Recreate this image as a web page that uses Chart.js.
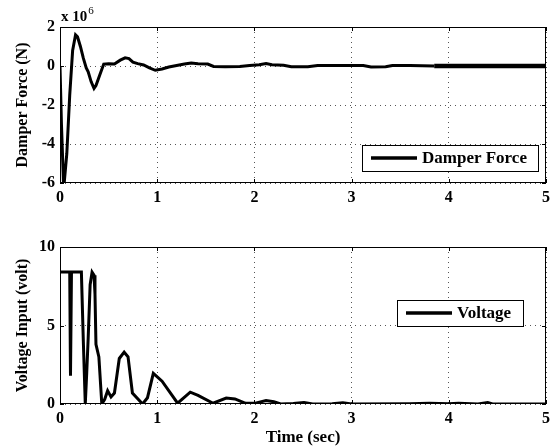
<!DOCTYPE html>
<html>
<head>
<meta charset="utf-8">
<script src="https://cdn.jsdelivr.net/npm/chart.js@4.4.1/dist/chart.umd.min.js"></script>
<style>
  html, body { margin: 0; padding: 0; background: #fff; }
  #wrap { position: relative; width: 555px; height: 448px; }
  .box { position: absolute; left: 0; width: 555px; }
</style>
</head>
<body>
<div id="wrap">
  <div class="box" style="top:0;height:220px"><canvas id="forceChart"></canvas></div>
  <div class="box" style="top:220px;height:228px"><canvas id="voltChart"></canvas></div>
</div>
<script>
// Damper force, in units of 1e6 N
const forceTime = [0, 0.015, 0.035, 0.045, 0.07, 0.1, 0.13, 0.16, 0.18, 0.21, 0.24, 0.27, 0.29, 0.32, 0.35, 0.37, 0.41, 0.45, 0.5, 0.56, 0.62, 0.67, 0.71, 0.75, 0.8, 0.86, 0.92, 0.98, 1.05, 1.12, 1.2, 1.28, 1.35, 1.42, 1.52, 1.58, 1.7, 1.85, 1.95, 2.05, 2.12, 2.18, 2.3, 2.38, 2.55, 2.65, 2.8, 3.12, 3.2, 3.35, 3.42, 3.6, 3.85, 4.2, 4.6, 5.0];
const forceValues = [0, -3, -5.9, -5.9, -4.5, -1.5, 0.8, 1.6, 1.5, 1.0, 0.4, -0.1, -0.3, -0.8, -1.15, -1.0, -0.45, 0.1, 0.12, 0.1, 0.3, 0.42, 0.38, 0.2, 0.12, 0.05, -0.1, -0.22, -0.15, -0.05, 0.03, 0.1, 0.15, 0.12, 0.1, -0.02, -0.04, -0.03, 0.02, 0.06, 0.13, 0.06, 0.04, -0.04, -0.04, 0.03, 0.03, 0.03, -0.05, -0.04, 0.03, 0.02, 0, 0, 0, 0];

// Voltage input (volt)
const voltTime = [0, 0.1, 0.108, 0.118, 0.22, 0.24, 0.26, 0.275, 0.29, 0.31, 0.33, 0.35, 0.36, 0.37, 0.4, 0.43, 0.46, 0.49, 0.525, 0.56, 0.61, 0.66, 0.7, 0.745, 0.85, 0.9, 0.96, 1.05, 1.21, 1.34, 1.42, 1.575, 1.71, 1.8, 1.91, 2.0, 2.12, 2.2, 2.27, 2.4, 2.51, 2.6, 2.8, 2.91, 3.0, 3.6, 3.8, 4.0, 4.1, 4.3, 4.4, 4.45, 5.0];
const voltValues = [8.4, 8.4, 1.8, 8.4, 8.4, 4.0, 0, 2.0, 4.2, 7.6, 8.4, 8.2, 7.0, 3.8, 3.0, 0, 0.3, 0.85, 0.45, 0.7, 2.9, 3.3, 3.0, 0.7, 0, 0.4, 1.95, 1.45, 0.05, 0.75, 0.55, 0.05, 0.38, 0.32, 0.04, 0.04, 0.22, 0.15, 0, 0.03, 0.1, 0, 0.02, 0.08, 0, 0.02, 0.05, 0.02, 0.05, 0, 0.1, 0, 0];

const timeTicks = [0, 1, 2, 3, 4, 5];
const forceTicks = [-6, -4, -2, 0, 2];
const voltTicks = [0, 5, 10];

const FONT = 'Liberation Serif';

function toPoints(xs, ys) {
  return xs.map((x, i) => ({ x: x, y: ys[i] }));
}

// box around plot area, inward ticks, legend, exponent note
function framePlugin(legendText, legendBox, exponent) {
  return {
    id: 'frame',
    afterDraw(chart) {
      const { ctx, chartArea: a, scales } = chart;
      ctx.save();
      ctx.strokeStyle = '#000';
      ctx.lineWidth = 1;
      ctx.strokeRect(a.left + 0.5, a.top + 0.5, a.right - a.left - 1, a.bottom - a.top - 1);
      ctx.beginPath();
      scales.x.ticks.forEach(t => {
        const px = Math.round(scales.x.getPixelForValue(t.value)) + 0.5;
        ctx.moveTo(px, a.top); ctx.lineTo(px, a.top + 4);
        ctx.moveTo(px, a.bottom); ctx.lineTo(px, a.bottom - 4);
      });
      scales.y.ticks.forEach(t => {
        const py = Math.round(scales.y.getPixelForValue(t.value)) + 0.5;
        ctx.moveTo(a.left, py); ctx.lineTo(a.left + 4, py);
        ctx.moveTo(a.right, py); ctx.lineTo(a.right - 4, py);
      });
      ctx.stroke();

      const b = legendBox;
      ctx.fillStyle = '#fff';
      ctx.fillRect(b.x, b.y, b.w, b.h);
      ctx.strokeRect(b.x + 0.5, b.y + 0.5, b.w, b.h);
      ctx.lineWidth = 3.5;
      ctx.beginPath();
      ctx.moveTo(b.x + 9, b.y + b.h / 2);
      ctx.lineTo(b.x + 55, b.y + b.h / 2);
      ctx.stroke();
      ctx.fillStyle = '#000';
      ctx.font = 'bold 17px "' + FONT + '"';
      ctx.textBaseline = 'middle';
      ctx.fillText(legendText, b.x + 60, b.y + b.h / 2 + 1);

      if (exponent) {
        ctx.font = 'bold 15px "' + FONT + '"';
        ctx.textBaseline = 'alphabetic';
        ctx.fillText('x 10', a.left + 1, a.top - 6);
        const w = ctx.measureText('x 10').width;
        ctx.font = '11px "' + FONT + '"';
        ctx.fillText(exponent, a.left + 1 + w + 1, a.top - 13);
      }
      ctx.restore();
    }
  };
}

function makeChart(id, opts) {
  return new Chart(document.getElementById(id), {
    type: 'line',
    data: {
      datasets: [{
        label: opts.label,
        data: toPoints(opts.xs, opts.ys),
        borderColor: '#000',
        borderWidth: 3,
        pointRadius: 0,
        tension: 0,
        segment: opts.segment
      }]
    },
    options: {
      responsive: true,
      maintainAspectRatio: false,
      animation: false,
      layout: { padding: { top: 27, right: 3, left: 0, bottom: 0 } },
      plugins: { legend: { display: false }, tooltip: { enabled: false } },
      scales: {
        x: {
          type: 'linear', min: 0, max: 5,
          afterBuildTicks: s => { s.ticks = timeTicks.map(v => ({ value: v })); },
          afterFit: s => { s.height = opts.xHeight; },
          grid: { color: '#555', drawTicks: false },
          border: { display: false, dash: [1, 4] },
          ticks: { color: '#000', padding: 5, font: { family: FONT, size: 16, weight: 'bold' } },
          title: opts.xTitle ? { display: true, text: opts.xTitle, color: '#000', padding: { top: 2, bottom: 0 }, font: { family: FONT, size: 17, weight: 'bold' } } : { display: false }
        },
        y: {
          type: 'linear', min: opts.yMin, max: opts.yMax,
          afterBuildTicks: s => { s.ticks = opts.yTicks.map(v => ({ value: v })); },
          afterFit: s => { s.width = 60; },
          grid: { color: '#555', drawTicks: false },
          border: { display: false, dash: [1, 4] },
          ticks: { color: '#000', padding: 5, font: { family: FONT, size: 16, weight: 'bold' } },
          title: { display: true, text: opts.yTitle, color: '#000', padding: { top: 13, bottom: 0 }, font: { family: FONT, size: 16, weight: 'bold' } }
        }
      }
    },
    plugins: [framePlugin(opts.label, opts.legendBox, opts.exponent)]
  });
}

makeChart('forceChart', {
  label: 'Damper Force',
  xs: forceTime, ys: forceValues,
  yMin: -6, yMax: 2, yTicks: forceTicks,
  yTitle: 'Damper Force (N)',
  xHeight: 37,
  exponent: '6',
  legendBox: { x: 362, y: 145, w: 176, h: 26 },
  segment: { borderWidth: ctx => ctx.p0.parsed.x >= 3.8 ? 4.5 : 3 }
});

makeChart('voltChart', {
  label: 'Voltage',
  xs: voltTime, ys: voltValues,
  yMin: 0, yMax: 10, yTicks: voltTicks,
  yTitle: 'Voltage Input (volt)',
  xTitle: 'Time (sec)',
  xHeight: 44,
  legendBox: { x: 397, y: 80, w: 126, h: 26 }
});
</script>
</body>
</html>
